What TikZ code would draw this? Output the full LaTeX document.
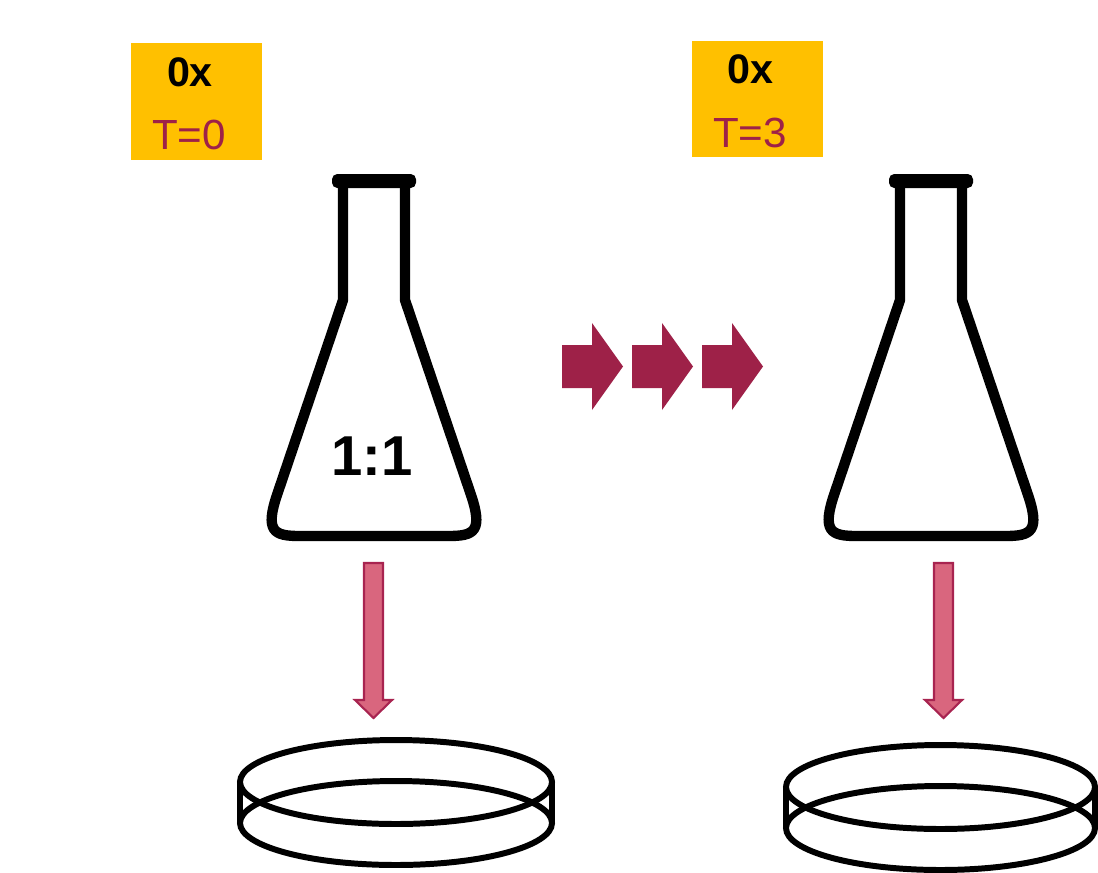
\documentclass[tikz,border=0pt]{standalone}
\usepackage{fontspec}
\setmainfont{Liberation Sans}
\definecolor{gold}{RGB}{255,192,0}
\definecolor{berry}{RGB}{158,33,72}
\definecolor{rose}{RGB}{217,102,126}
\definecolor{roseedge}{RGB}{168,36,80}

\begin{document}
\begin{tikzpicture}[x=0.02cm,y=-0.02cm]
\tikzstyle{tbox}=[fill=gold, inner sep=0pt, minimum width=2.62cm, minimum height=2.34cm]
\tikzstyle{fold}=[font=\bfseries\fontsize{23.5}{28}\selectfont, anchor=base, inner sep=0pt]
\tikzstyle{time}=[text=berry, font=\fontsize{24}{28}\selectfont, anchor=base, inner sep=0pt]
\tikzstyle{flask}=[line width=5.9pt, line join=round]
\tikzstyle{dish}=[line width=3.4pt]
\tikzstyle{bigarrow}=[fill=berry]
\tikzstyle{drop}=[fill=rose, draw=roseedge, line width=1.2pt, line join=miter]

\useasboundingbox (0,0) rectangle (1098,872);

% time point labels
\node[tbox] (box0) at (196.5,101.5) {};
\node[fold] (fold0) at (190,86) {0x};
\node[time] (t0) at (189,149) {T=0};

\node[tbox] (box3) at (757.5,99) {};
\node[fold] (fold3) at (750,83) {0x};
\node[time] (t3) at (750,147) {T=3};

% flasks
\foreach \cx in {374,931} {
\begin{scope}[xshift=\cx*0.02cm]
\draw[flask] (-31,183) -- (-31,300) -- (-96,492)
  .. controls (-110,532) and (-100,536) .. (-74,536) -- (74,536)
  .. controls (100,536) and (110,532) .. (96,492) -- (31,300) -- (31,183);
\fill[rounded corners=3pt] (-42,174) rectangle (42,188);
\end{scope}
}
\node[font=\bfseries\fontsize{32}{38}\selectfont, anchor=base, inner sep=0pt] (ratio) at (372,475) {1:1};

% growth arrows
\foreach \ax in {562,632,702} {
\fill[bigarrow] (\ax,345) -- ++(30,0) -- ++(0,-22) -- ++(31,43.5)
  -- ++(-31,43.5) -- ++(0,-22) -- ++(-30,0) -- cycle;
}

% plating arrows
\foreach \dx in {373.5,943.5} {
\draw[drop] (\dx-9.5,563) -- (\dx+9.5,563) -- (\dx+9.5,700) -- (\dx+18.5,700)
  -- (\dx,718) -- (\dx-18.5,700) -- (\dx-9.5,700) -- cycle;
}

% petri dishes
\foreach \cx/\cy/\rx in {396/782/156, 940.5/787/154.5} {
\draw[dish] (\cx,\cy) ellipse [x radius=\rx*0.02cm, y radius=0.84cm];
\draw[dish] (\cx,\cy+41) ellipse [x radius=\rx*0.02cm, y radius=0.84cm];
\draw[dish] (\cx-\rx,\cy) -- (\cx-\rx,\cy+41);
\draw[dish] (\cx+\rx,\cy) -- (\cx+\rx,\cy+41);
}

\end{tikzpicture}
\end{document}
